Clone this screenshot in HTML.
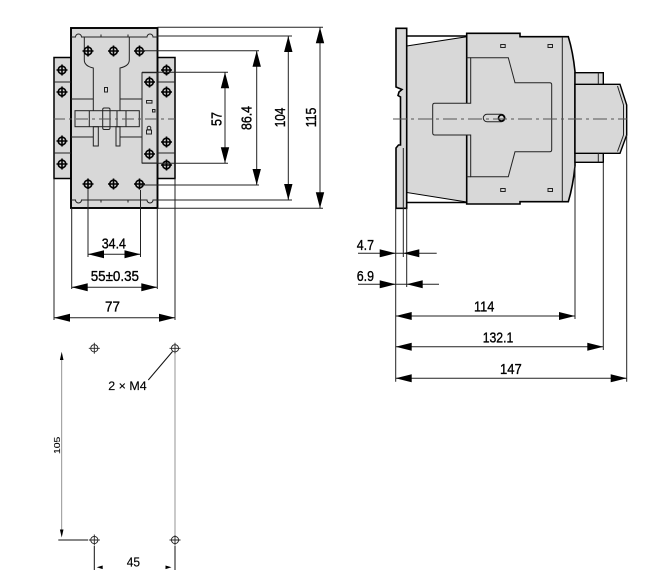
<!DOCTYPE html>
<html><head><meta charset="utf-8"><style>
html,body{margin:0;padding:0;background:#fff;}
svg{display:block;}
text{font-family:"Liberation Sans Narrow","Liberation Sans",sans-serif;fill:#000;stroke:#000;stroke-width:0.35;}
</style></head><body>
<svg width="667" height="586" viewBox="0 0 667 586" xmlns="http://www.w3.org/2000/svg">
<rect width="667" height="586" fill="#fff"/>

<!-- ============ FRONT VIEW ============ -->
<g stroke="#000" fill="#d8d8d8">
  <rect x="54" y="57.5" width="17" height="121" stroke-width="1.5"/>
  <rect x="157.5" y="57.5" width="17.5" height="121" stroke-width="1.5"/>
  <rect x="71" y="28" width="86.5" height="180" stroke-width="1.9"/>
</g>
<g stroke="#222" fill="none" stroke-width="1">
  <path d="M54 82H71M54 153H71M157.5 82H175M157.5 153H175"/>
  <path d="M71 37H75.5A3 3 0 0 1 81.5 37H147A3 3 0 0 1 153 37H157.5"/>
  <path d="M101 34.5V37M128 34.5V37"/>
  <path d="M71 200H75.5A3 3 0 0 0 81.5 200H147A3 3 0 0 0 153 200H157.5"/>
  <path d="M101 200V202.5M128 200V202.5"/>
  <path d="M84.3 37V60Q84.3 66 93.3 68V110.7"/>
  <path d="M129.3 37V60Q129.3 66 120 68V110.7"/>
  <path d="M71 99H93.3M120 99H142"/>
  <path d="M71 137H93.3M120 137H142"/>
  <rect x="75" y="110.7" width="64.3" height="16"/>
  <path d="M89.3 110.7V126.7M117 110.7V126.7M126 110.7V126.7"/>
  <rect x="102.7" y="108" width="7.3" height="21.5" rx="1.5"/>
  <rect x="93.3" y="126.7" width="5" height="19.3"/>
  <rect x="116" y="126.7" width="4" height="19.3"/>
  <rect x="104.5" y="87.5" width="3" height="4.5"/>
  <rect x="142" y="72.7" width="15.5" height="90.3"/>
  <rect x="146.5" y="100.5" width="5.5" height="2.6"/>
  <rect x="152.5" y="109.5" width="2.5" height="2.5"/>
  <circle cx="149" cy="128" r="1.8"/>
  <rect x="146.5" y="130" width="5" height="4"/>
</g>
<path d="M53 119H175" stroke="#555" stroke-width="0.9" stroke-dasharray="12 4 3 4" fill="none"/>
<g stroke="#000" stroke-width="1.6" fill="none">
  <g transform="translate(88,51)"><circle r="3.8"/><path d="M-5.5 0H5.5M0 -5.5V5.5"/></g>
  <g transform="translate(113.5,51)"><circle r="3.8"/><path d="M-5.5 0H5.5M0 -5.5V5.5"/></g>
  <g transform="translate(139.5,51)"><circle r="3.8"/><path d="M-5.5 0H5.5M0 -5.5V5.5"/></g>
  <g transform="translate(88,184)"><circle r="3.8"/><path d="M-5.5 0H5.5M0 -5.5V5.5"/></g>
  <g transform="translate(113.5,184)"><circle r="3.8"/><path d="M-5.5 0H5.5M0 -5.5V5.5"/></g>
  <g transform="translate(139.5,184)"><circle r="3.8"/><path d="M-5.5 0H5.5M0 -5.5V5.5"/></g>
  <g transform="translate(62,70)"><circle r="3.8"/><path d="M-5.5 0H5.5M0 -5.5V5.5"/></g>
  <g transform="translate(62,92)"><circle r="3.8"/><path d="M-5.5 0H5.5M0 -5.5V5.5"/></g>
  <g transform="translate(62,141)"><circle r="3.8"/><path d="M-5.5 0H5.5M0 -5.5V5.5"/></g>
  <g transform="translate(62,164)"><circle r="3.8"/><path d="M-5.5 0H5.5M0 -5.5V5.5"/></g>
  <g transform="translate(166.5,70)"><circle r="3.8"/><path d="M-5.5 0H5.5M0 -5.5V5.5"/></g>
  <g transform="translate(166.5,92)"><circle r="3.8"/><path d="M-5.5 0H5.5M0 -5.5V5.5"/></g>
  <g transform="translate(166.5,142)"><circle r="3.8"/><path d="M-5.5 0H5.5M0 -5.5V5.5"/></g>
  <g transform="translate(166.5,165)"><circle r="3.8"/><path d="M-5.5 0H5.5M0 -5.5V5.5"/></g>
  <g transform="translate(149.5,82)"><circle r="3.8"/><path d="M-5.5 0H5.5M0 -5.5V5.5"/></g>
  <g transform="translate(149.5,154)"><circle r="3.8"/><path d="M-5.5 0H5.5M0 -5.5V5.5"/></g>
</g>

<g stroke="#222" stroke-width="1" fill="none">
  <path d="M157.5 27.3H323M157.5 36H292M139.5 50.7H259M142 72.3H228M142 163.3H228M139.5 185H259M157.5 200H292M157.5 208.3H323"/>
  <path d="M54 178.5V320M71.7 208V289M88 190V257M140.5 190V257M157.3 208V289M175 178.5V320"/>
  <path d="M225 72.3V163.3M256.7 50.7V185M288.3 36V200M320 27.3V208.3"/>
  <path d="M88 254.3H140.5M71.7 287.3H157.3M54 317.7H175"/>
</g>
<g fill="#000">
  <path d="M225 72.3L220.8 88.3H229.2Z M225 163.3L220.8 147.3H229.2Z"/>
  <path d="M256.7 50.7L252.5 66.7H260.9Z M256.7 185L252.5 169H260.9Z"/>
  <path d="M288.3 36L284.1 52H292.5Z M288.3 200L284.1 184H292.5Z"/>
  <path d="M320 27.3L315.8 43.3H324.2Z M320 208.3L315.8 192.3H324.2Z"/>
  <path d="M88 254.3L104 250.3V258.3Z M140.5 254.3L124.5 250.3V258.3Z"/>
  <path d="M71.7 287.3L87.7 283.3V291.3Z M157.3 287.3L141.3 283.3V291.3Z"/>
  <path d="M54 317.7L70 313.7V321.7Z M175 317.7L159 313.7V321.7Z"/>
</g>
<g font-size="15">
  <text transform="translate(221.7,126) rotate(-90)" textLength="14" lengthAdjust="spacingAndGlyphs">57</text>
  <text transform="translate(251.7,130) rotate(-90)" textLength="24" lengthAdjust="spacingAndGlyphs">86.4</text>
  <text transform="translate(285,127.3) rotate(-90)" textLength="19.6" lengthAdjust="spacingAndGlyphs">104</text>
  <text transform="translate(316,127.3) rotate(-90)" textLength="19.6" lengthAdjust="spacingAndGlyphs">115</text>
  <text x="101.7" y="248.3" textLength="24.3" lengthAdjust="spacingAndGlyphs">34.4</text>
  <text x="90.7" y="281" textLength="48.3" lengthAdjust="spacingAndGlyphs">55±0.35</text>
  <text x="105" y="311.7" textLength="15" lengthAdjust="spacingAndGlyphs">77</text>
</g>

<!-- ============ SIDE VIEW ============ -->
<path d="M406.7 46L466.7 36.7V202L406.7 192.5Z" fill="#d8d8d8" stroke="#000" stroke-width="1"/>
<path d="M406.7 36H466.7M406.7 202.5H466.7" stroke="#000" stroke-width="1.5" fill="none"/>
<path d="M396 28.3H406.7V208.3H396V148L398.5 145H400.5V97L398 95.5L399 92L402 89.5L396 87Z" fill="#d8d8d8" stroke="#000" stroke-width="1.6"/>
<path d="M403.3 148V208.3" stroke="#222" stroke-width="1" fill="none"/>
<path d="M466.7 33.3H520V36.7H568.3Q573 52 575 71.7V166Q573 186 568.3 201.7H520V204H466.7Z" fill="#d8d8d8" stroke="#000" stroke-width="1.6"/>
<path d="M562.3 37V201" stroke="#222" stroke-width="1" fill="none"/>
<path d="M470.7 57.7H508.3L515 82.7H549.7Q551.7 82.7 551.7 84.7V149.7Q551.7 151.7 549.7 151.7H515L508.3 176.7H470.7V135H434.7Q432.7 135 432.7 133V105.3Q432.7 103.3 434.7 103.3H470.7Z" fill="#d8d8d8" stroke="#222" stroke-width="1"/>
<path d="M466.7 57.7H470.7M466.7 176.7H470.7" stroke="#222" stroke-width="1"/>
<rect x="483.3" y="114.3" width="21.7" height="7.4" rx="3.7" fill="#d8d8d8" stroke="#222" stroke-width="1"/>
<circle cx="501.5" cy="118" r="3" fill="none" stroke="#000" stroke-width="1.6"/>
<g fill="none" stroke="#222" stroke-width="1">
  <rect x="500.7" y="44.5" width="4.5" height="3"/>
  <rect x="548" y="44.5" width="4.5" height="3"/>
  <rect x="500.7" y="188.5" width="4.5" height="3"/>
  <rect x="548" y="188.5" width="4.5" height="3"/>
</g>
<rect x="575" y="72.7" width="28.3" height="89.6" fill="#d8d8d8" stroke="#000" stroke-width="1.4"/>
<path d="M575 84.3H620L626.7 105V135L620 153.3H575Z" fill="#d8d8d8" stroke="#000" stroke-width="1.4"/>
<path d="M598.3 72.7V84.3M598.3 153.3V162.3M617.5 86L623.5 105V135L617.5 151.5" stroke="#222" stroke-width="1" fill="none"/>
<path d="M393 119H627" stroke="#555" stroke-width="0.9" stroke-dasharray="14 4 3 4" fill="none"/>

<g stroke="#222" stroke-width="1" fill="none">
  <path d="M395.7 208V381.7M403.3 208V257M406.7 208V287M575 166V319M603.3 162.3V350M626.7 135V381.7"/>
  <path d="M358 253.3H436.7M358 284.3H439"/>
  <path d="M395.7 316H575M395.7 346.7H603.3M395.7 378.3H626.7"/>
</g>
<g fill="#000">
  <path d="M395.7 253.3L379.7 249.3V257.3Z M403.3 253.3L419.3 249.3V257.3Z"/>
  <path d="M395.7 284.3L379.7 280.3V288.3Z M406.7 284.3L422.7 280.3V288.3Z"/>
  <path d="M395.7 316L411.7 312V320Z M575 316L559 312V320Z"/>
  <path d="M395.7 346.7L411.7 342.7V350.7Z M603.3 346.7L587.3 342.7V350.7Z"/>
  <path d="M395.7 378.3L411.7 374.3V382.3Z M626.7 378.3L610.7 374.3V382.3Z"/>
</g>
<g font-size="15">
  <text x="356.7" y="250" textLength="17.3" lengthAdjust="spacingAndGlyphs">4.7</text>
  <text x="356.7" y="281" textLength="17.3" lengthAdjust="spacingAndGlyphs">6.9</text>
  <text x="474" y="311.7" textLength="20.3" lengthAdjust="spacingAndGlyphs">114</text>
  <text x="482.7" y="342.7" textLength="30.6" lengthAdjust="spacingAndGlyphs">132.1</text>
  <text x="500" y="374" textLength="21.7" lengthAdjust="spacingAndGlyphs">147</text>
</g>

<!-- ============ MOUNTING HOLES ============ -->
<g stroke="#222" stroke-width="0.9" fill="none">
  <circle cx="94.3" cy="348.3" r="3.6"/><path d="M88.8 348.3H99.8M94.3 342.8V353.8"/>
  <circle cx="175" cy="348.3" r="3.6"/><path d="M169.5 348.3H180.5M175 342.8V353.8"/>
  <circle cx="94.3" cy="540" r="3.6"/><path d="M88.8 540H99.8M94.3 534.5V545.5"/>
  <circle cx="175" cy="540" r="3.6"/><path d="M169.5 540H180.5M175 534.5V545.5"/>
</g>
<g stroke="#888" stroke-width="0.9" fill="none">
  <path d="M175 354V534"/>
  <path d="M61.7 356V533"/>
</g>
<g stroke="#111" stroke-width="1" fill="none">
  <path d="M58.3 540H88"/>
  <path d="M148.3 380L172.5 351.5"/>
  <path d="M94.3 546V570M175 546V570"/>
</g>
<g fill="#000">
  <path d="M61.7 351.7L59.9 360H63.5Z"/>
  <path d="M61.7 537.5L59.9 529.5H63.5Z"/>
  <path d="M96.7 567.3L102.7 565.5V569.1Z"/>
  <path d="M171.5 567.3L165.5 565.5V569.1Z"/>
</g>
<text x="108.3" y="390" font-size="11.5" textLength="38.4" lengthAdjust="spacingAndGlyphs" style="stroke-width:0.15">2 × M4</text>
<text x="126.7" y="566.5" font-size="12.5" textLength="13.3" lengthAdjust="spacingAndGlyphs" style="stroke-width:0.15">45</text>
<text transform="translate(60,454) rotate(-90)" font-size="8.5" textLength="17.3" lengthAdjust="spacingAndGlyphs" style="stroke-width:0.1">105</text>
</svg>
</body></html>
